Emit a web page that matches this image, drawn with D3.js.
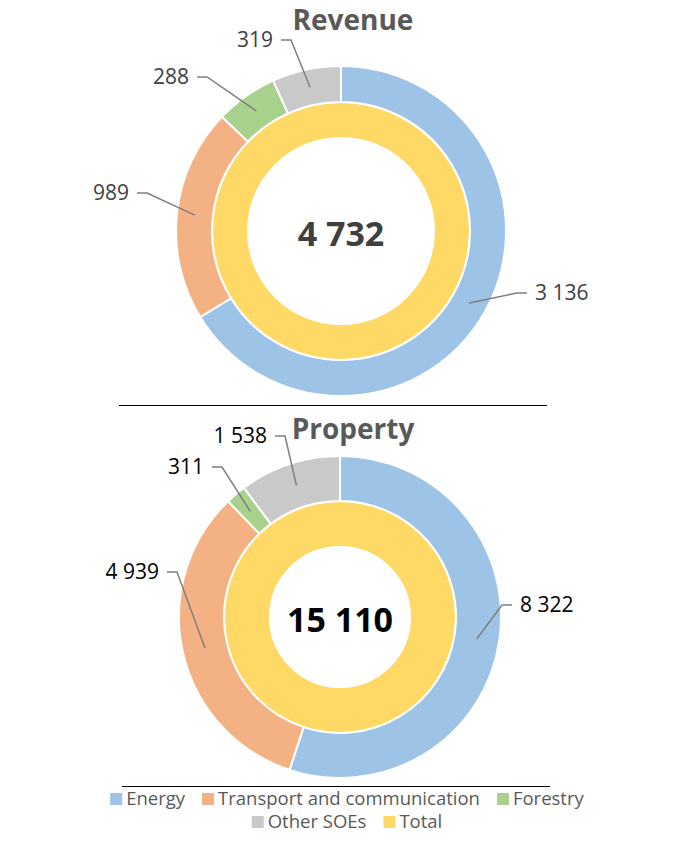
<!DOCTYPE html>
<html>
<head>
<meta charset="utf-8">
<script src="https://cdn.jsdelivr.net/npm/d3@7"></script>
<style>
  body { margin: 0; background: #fff; }
  svg { display: block; font-family: "Open Sans", sans-serif; }
</style>
</head>
<body>
<svg id="chart" width="677" height="842"></svg>
<script>
// data
var categories = ["Energy", "Transport and communication", "Forestry", "Other SOEs"];
var revenueValues = [3136, 989, 288, 319];
var propertyValues = [8322, 4939, 311, 1538];
var totalLabel = "Total";
var revenueTotal = 4732;
var propertyTotal = 15110;

var colors = ["#9DC3E6", "#F4B183", "#A9D18E", "#C9C9C9"],
    totalColor = "#FFD966";

var fmt = function(v){
    return d3.format(",")(v).replace(/,/g, " ");
};

var svg = d3.select("#chart");

function donut(opts){
    var g = svg.append("g")
        .attr("transform", "translate(" + opts.cx + "," + opts.cy + ")");

    var pie = d3.pie().sort(null).value(function(d){ return d; });
    var arcs = pie(opts.values);

    var outer = d3.arc().innerRadius(opts.r1).outerRadius(opts.r2);
    var inner = d3.arc().innerRadius(opts.r0).outerRadius(opts.r1);
    var mid = d3.arc().innerRadius((opts.r1 + opts.r2) / 2).outerRadius((opts.r1 + opts.r2) / 2);

    // total ring
    g.selectAll("path.total")
        .data(pie([opts.total]))
        .enter().append("path")
        .attr("class", "total")
        .attr("d", inner)
        .style("fill", totalColor)
        .style("stroke", "#fff")
        .style("stroke-width", 2);

    g.selectAll("path.seg")
        .data(arcs)
        .enter().append("path")
        .attr("class", "seg")
        .attr("d", outer)
        .style("fill", function(d, i){ return colors[i]; })
        .style("stroke", "#fff")
        .style("stroke-width", 2);

    // leader lines + labels
    arcs.forEach(function(d, i){
        var a = mid.centroid(d),
            e = opts.elbows[i],
            right = e[0] > 0,
            end = [e[0] + (right ? 10 : -10), e[1]];
        g.append("polyline")
            .attr("points", [a, e, end].map(function(p){ return p.join(","); }).join(" "))
            .style("fill", "none")
            .style("stroke", "#7F7F7F")
            .style("stroke-width", 1.5);
        g.append("text")
            .attr("x", end[0] + (right ? 8 : -8))
            .attr("y", end[1])
            .attr("dy", "0.35em")
            .attr("text-anchor", right ? "start" : "end")
            .style("font-size", "21px")
            .style("fill", opts.labelColor)
            .text(fmt(opts.values[i]));
    });

    g.append("text")
        .attr("x", 0)
        .attr("y", 3)
        .attr("dy", "0.35em")
        .attr("text-anchor", "middle")
        .style("font-size", "34px")
        .style("font-weight", "bold")
        .style("fill", opts.centerColor)
        .text(fmt(opts.total));

    svg.append("text")
        .attr("x", 353)
        .attr("y", opts.titleY)
        .attr("text-anchor", "middle")
        .style("font-size", "28px")
        .style("font-weight", "bold")
        .style("fill", "#595959")
        .text(opts.title);
}

donut({
    title: "Revenue", titleY: 30,
    cx: 341, cy: 231, r0: 93, r1: 129, r2: 165,
    values: revenueValues, total: revenueTotal,
    labelColor: "#404040", centerColor: "#404040",
    elbows: [[176, 62], [-194, -38], [-134, -154], [-50, -191]]
});

donut({
    title: "Property", titleY: 439,
    cx: 340, cy: 617, r0: 70, r1: 116, r2: 161,
    values: propertyValues, total: propertyTotal,
    labelColor: "#000", centerColor: "#000",
    elbows: [[162, -12], [-163, -45], [-118, -150], [-55, -181]]
});

// separators
svg.append("line").attr("x1", 119).attr("x2", 547).attr("y1", 405.5).attr("y2", 405.5)
    .style("stroke", "#000").style("stroke-width", 1);
svg.append("line").attr("x1", 122).attr("x2", 550).attr("y1", 786.5).attr("y2", 786.5)
    .style("stroke", "#000").style("stroke-width", 1);

// legend
var legendItems = categories.map(function(c, i){ return {name: c, color: colors[i]}; })
    .concat([{name: totalLabel, color: totalColor}]);
var rows = [legendItems.slice(0, 3), legendItems.slice(3)];
var rowY = [799, 822];

rows.forEach(function(row, r){
    var lg = svg.append("g");
    var x = 0;
    row.forEach(function(item){
        var ig = lg.append("g").attr("transform", "translate(" + x + ",0)");
        ig.append("rect")
            .attr("x", 0).attr("y", -6)
            .attr("width", 12).attr("height", 12)
            .style("fill", item.color);
        var t = ig.append("text")
            .attr("x", 16)
            .attr("y", 0)
            .attr("dy", "0.35em")
            .style("font-size", "18.5px")
            .style("fill", "#595959")
            .text(item.name);
        x += 16 + t.node().getComputedTextLength() + 17;
    });
    var w = x - 17;
    lg.attr("transform", "translate(" + (347 - w / 2) + "," + rowY[r] + ")");
});
</script>
</body>
</html>
